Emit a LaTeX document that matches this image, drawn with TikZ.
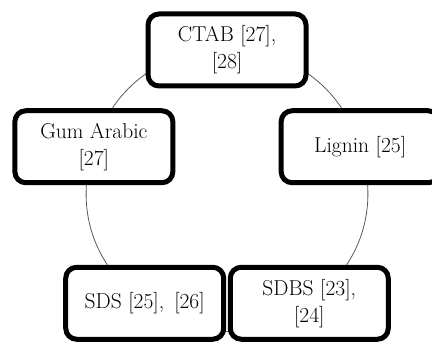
\documentclass[tikz,border=0pt]{standalone}
\usetikzlibrary{backgrounds,shadows,calc}
\begin{document}
\begin{tikzpicture}[x=1pt,y=1pt,
  box/.style={draw=black, line width=5pt, rounded corners=11pt, fill=white,
    minimum width=158pt, minimum height=72pt, align=center, inner sep=0pt,
    font=\fontsize{21.5}{27}\selectfont,
    drop shadow={shadow xshift=2pt, shadow yshift=-2pt, opacity=0.35, fill=gray}},
  ring/.style={draw=black!65, line width=0.8pt}]
\useasboundingbox (0,0) rectangle (432,342);
\coordinate (c) at (227,152);
\node[box] (ctab)   at ($(c)+(90:140)$)  {CTAB [27],\\{}[28]};
\node[box] (gum)    at ($(c)+(162:140)$) {Gum Arabic\\{}[27]};
\node[box] (sds)    at ($(c)+(234:140)$) {SDS [25], \,[26]};
\node[box] (sdbs)   at ($(c)+(306:140)$) {SDBS [23],\\{}[24]};
\node[box] (lignin) at ($(c)+(18:140)$)  {Lignin [25]};
\begin{scope}[on background layer]
\draw[ring] (ctab.center) to[bend right=36] (gum.center);
\draw[ring] (gum.center) to[bend right=36] (sds.center);
\draw[ring] (sds.center) to[bend right=36] (sdbs.center);
\draw[ring] (sdbs.center) to[bend right=36] (lignin.center);
\draw[ring] (lignin.center) to[bend right=36] (ctab.center);
\end{scope}
\end{tikzpicture}
\end{document}
